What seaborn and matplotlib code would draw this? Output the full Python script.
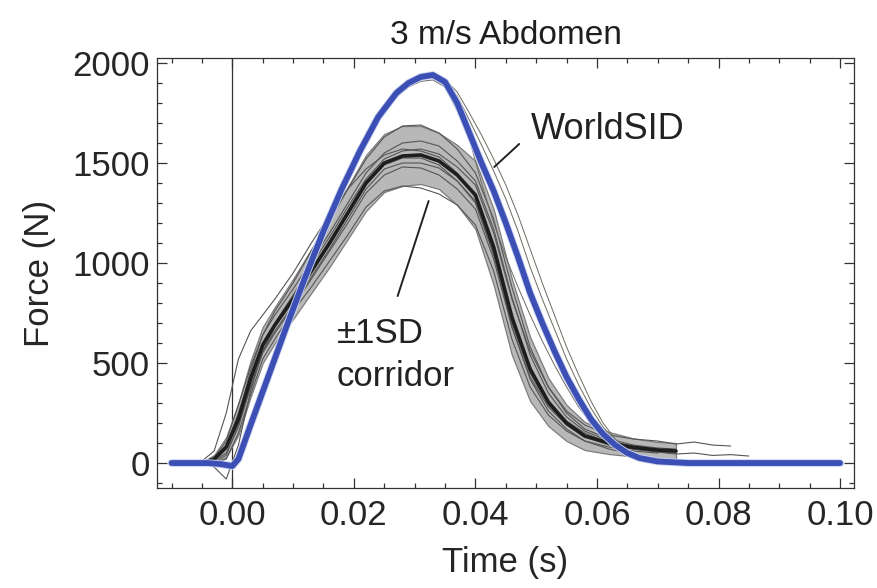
import numpy as np
import pandas as pd
import matplotlib
matplotlib.use("Agg")
import matplotlib.pyplot as plt
import matplotlib.patheffects as pe
from matplotlib.ticker import MultipleLocator
import seaborn as sns

# ---------------- data ----------------
nan = np.nan
tt = [-0.010, -0.005, -0.003, -0.001, 0.001, 0.003, 0.005, 0.007, 0.010, 0.013,
      0.016, 0.019, 0.022, 0.025, 0.028, 0.031, 0.034, 0.037, 0.040, 0.043,
      0.046, 0.049, 0.052, 0.055, 0.058, 0.062, 0.066, 0.070, 0.073, 0.076,
      0.079, 0.082, 0.085]
mean_force = [0, 0, 20, 80, 220, 420, 590, 690, 820, 960, 1100, 1250, 1400, 1500,
              1535, 1540, 1510, 1440, 1340, 1080, 730, 470, 305, 200, 135, 100, 78,
              65, 60, nan, nan, nan, nan]
sd_force = [0, 5, 20, 50, 80, 90, 90, 90, 100, 110, 120, 130, 140, 145, 150, 145,
            140, 150, 170, 190, 190, 160, 120, 90, 70, 55, 45, 40, 40, nan, nan,
            nan, nan]
trace_1 = [0, 0, 10, 70, 240, 460, 640, 760, 900, 1060, 1210, 1370, 1520, 1630, 1685,
           1690, 1650, 1570, 1450, 1220, 880, 580, 380, 250, 170, 120, 90, 75, 70,
           nan, nan, nan, nan]
trace_2 = [0, 0, 0, 20, 150, 340, 520, 620, 760, 880, 1010, 1140, 1280, 1360, 1385,
           1375, 1345, 1290, 1190, 960, 620, 380, 240, 160, 110, 80, 60, 50, nan,
           nan, nan, nan, nan]
trace_3 = [0, 10, 60, 250, 520, 660, 740, 820, 950, 1100, 1240, 1370, 1470, 1540,
           1570, 1560, 1530, 1450, 1330, 1050, 680, 420, 260, 170, 110, 70, 45, nan,
           nan, nan, nan, nan, nan]
trace_4 = [0, 0, 20, 90, 250, 440, 600, 700, 840, 990, 1130, 1280, 1420, 1520, 1560,
           1570, 1545, 1480, 1390, 1150, 820, 560, 380, 260, 190, 140, 120, 110, 95,
           105, 90, 85, nan]
trace_5 = [0, 0, 10, 50, 180, 380, 560, 660, 790, 930, 1070, 1220, 1370, 1470, 1500,
           1500, 1475, 1410, 1310, 1050, 720, 460, 300, 210, 150, 100, 70, 55, 45,
           50, 38, 42, 35]
trace_6 = [0, 0, -20, -80, 90, 360, 560, 680, 810, 950, 1090, 1240, 1390, 1490, 1525,
           1525, 1490, 1410, 1300, 1040, 700, 450, 290, 190, 130, 95, 70, 55, 50,
           nan, nan, nan, nan]
trace_7 = [0, 0, 25, 110, 290, 480, 640, 740, 870, 1010, 1150, 1300, 1450, 1550, 1600,
           1610, 1585, 1510, 1410, 1170, 830, 540, 350, 230, 160, 110, 85, 70, nan,
           nan, nan, nan, nan]
trace_8 = [0, 0, 0, 40, 190, 380, 550, 650, 780, 920, 1060, 1200, 1350, 1440, 1480,
           1475, 1440, 1370, 1270, 1020, 680, 430, 280, 190, 130, 90, 70, nan, nan,
           nan, nan, nan, nan]
human_traces = [trace_1, trace_2, trace_3, trace_4, trace_5, trace_6, trace_7, trace_8]

tb = [-0.010, -0.004, -0.002, 0.000, 0.001, 0.003, 0.006, 0.009, 0.012, 0.015,
      0.018, 0.021, 0.024, 0.027, 0.029, 0.031, 0.033, 0.035, 0.037, 0.039, 0.041,
      0.043, 0.045, 0.047, 0.049, 0.051, 0.053, 0.055, 0.057, 0.059, 0.061, 0.063,
      0.065, 0.067, 0.070, 0.075, 0.100]
worldsid = [0, 0, -5, -15, 20, 190, 440, 690, 930, 1160, 1370, 1560, 1730, 1850,
            1900, 1930, 1940, 1905, 1800, 1650, 1500, 1360, 1200, 1030, 850, 700, 560,
            430, 320, 220, 145, 90, 50, 25, 8, 0, 0]
worldsid_rep1 = [0, 0, -5, -12, 20, 180, 420, 670, 910, 1140, 1350, 1540, 1710,
                 1830, 1880, 1908, 1915, 1880, 1760, 1620, 1400, 1200, 1030, 880, 740,
                 610, 490, 380, 280, 200, 130, 80, 45, 20, 5, 0, nan]
worldsid_rep2 = [0, 0, -5, -12, 25, 200, 450, 700, 940, 1170, 1380, 1570, 1740,
                 1855, 1903, 1930, 1938, 1912, 1835, 1715, 1590, 1460, 1320, 1160, 980,
                 820, 670, 520, 390, 275, 180, 110, 60, 30, 10, 0, nan]
worldsid_rep3 = [0, 0, -5, -12, 25, 200, 450, 700, 940, 1170, 1380, 1570, 1740,
                 1855, 1903, 1930, 1938, 1918, 1855, 1750, 1640, 1520, 1390, 1240, 1070,
                 900, 740, 580, 440, 310, 200, 120, 65, 30, 10, 0, nan]
worldsid_reps = [worldsid_rep1, worldsid_rep2, worldsid_rep3]

# ---------------- figure ----------------
sns.set_theme(style="ticks")
plt.rcParams["font.family"] = ["Liberation Sans", "DejaVu Sans"]

fig = plt.figure(figsize=(8.78, 5.88), dpi=100)
ax = fig.add_axes([0.1788, 0.170, 0.7939, 0.7314])

t_arr = np.array(tt)
m_arr = np.array(mean_force, dtype=float)
s_arr = np.array(sd_force, dtype=float)
ok = ~np.isnan(m_arr)
ax.fill_between(t_arr[ok], (m_arr - s_arr)[ok], (m_arr + s_arr)[ok],
                color="#b8b8b8", edgecolor="#7d7d7d", linewidth=0.9, zorder=1)

for tr in human_traces:
    sns.lineplot(x=tt, y=tr, ax=ax, color="#555555", linewidth=0.8,
                 estimator=None, sort=False, zorder=2)

for tr in worldsid_reps:
    sns.lineplot(x=tb, y=tr, ax=ax, color="#6e6a60", linewidth=0.7,
                 estimator=None, sort=False, zorder=3)

sns.lineplot(x=tt, y=mean_force, ax=ax, color="#1e1e1e", linewidth=2.6,
             estimator=None, sort=False, zorder=4)

sns.lineplot(x=tb, y=worldsid, ax=ax, color="#3c4fb4", linewidth=4.2,
             estimator=None, sort=False, zorder=5,
             path_effects=[pe.Stroke(linewidth=5.5, foreground="#c9d3f0"), pe.Normal()])

ax.axvline(0, color="#333333", linewidth=0.9, zorder=0.5)

ax.set_xlim(-0.0124, 0.1023)
ax.set_ylim(-125, 2025)
ax.xaxis.set_major_locator(MultipleLocator(0.02))
ax.xaxis.set_minor_locator(MultipleLocator(0.005))
ax.yaxis.set_major_locator(MultipleLocator(500))
ax.yaxis.set_minor_locator(MultipleLocator(100))
ax.xaxis.set_major_formatter(plt.FuncFormatter(lambda v, p: f"{v:.2f}"))
ax.tick_params(which="both", direction="in", top=True, right=True,
               color="#333333", width=0.9)
ax.tick_params(which="major", length=7, labelsize=25, labelcolor="#262626")
ax.tick_params(axis="x", which="major", pad=8)
ax.tick_params(axis="y", which="major", pad=5)
ax.tick_params(which="minor", length=3.5)
for sp in ax.spines.values():
    sp.set_color("#333333")
    sp.set_linewidth(0.9)

ax.set_xlabel("Time (s)", fontsize=25, color="#262626", labelpad=10)
ax.set_ylabel("Force (N)", fontsize=25, color="#262626", labelpad=12)
ax.set_title("3 m/s Abdomen", fontsize=24, color="#1e1e1e", pad=10)

# annotations
ax.plot([0.0472, 0.0431], [1595, 1480], color="#222222", lw=1.4, zorder=6)
ax.text(0.0492, 1620, "WorldSID", fontsize=26, color="#222222",
        ha="left", va="baseline")
ax.plot([0.0272, 0.0323], [835, 1310], color="#222222", lw=1.4, zorder=6)
ax.text(0.01716, 600, "±1SD", fontsize=25, color="#222222",
        ha="left", va="baseline")
ax.text(0.01716, 385, "corridor", fontsize=25, color="#222222",
        ha="left", va="baseline")

fig.savefig("out.png", dpi=100)
